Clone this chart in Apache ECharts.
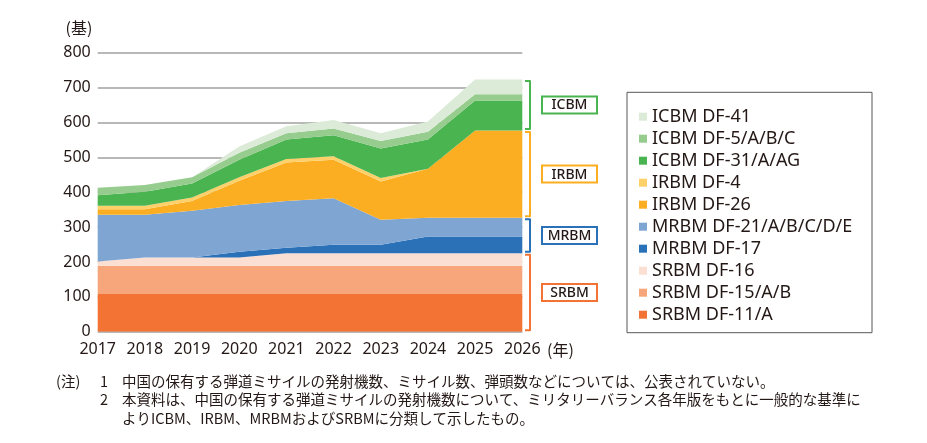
<!DOCTYPE html>
<html>
<head>
<meta charset="utf-8">
<script src="https://cdn.jsdelivr.net/npm/echarts@6/dist/echarts.min.js"></script>
<style>
  html, body { margin: 0; padding: 0; background: #ffffff; }
  #chart { width: 927px; height: 443px; }
</style>
</head>
<body>
<div id="chart"></div>
<script>
// ---- data (launchers, 基) ----
const years = ['2017','2018','2019','2020','2021','2022','2023','2024','2025','2026'];
const yTicks = [0,100,200,300,400,500,600,700,800];

const srbmDF11  = [108,108,108,108,108,108,108,108,108,108];
const srbmDF15  = [81,81,81,81,81,81,81,81,81,81];
const srbmDF16  = [12,24,24,24,36,36,36,36,36,36];
const mrbmDF17  = [0,0,0,16,16,24,24,48,48,48];
const mrbmDF21  = [134,122,134,134,134,134,72,54,54,54];
const irbmDF26  = [16,16,28,70,110,110,110,140,250,250];
const irbmDF4   = [10,10,10,10,10,10,10,0,0,0];
const icbmDF31  = [30,40,40,50,56,60,84,84,86,86];
const icbmDF5   = [22,20,18,20,18,20,22,22,18,18];
const icbmDF41  = [0,0,0,18,20,24,22,30,42,42];

const seriesNames = ['SRBM DF-11/A','SRBM DF-15/A/B','SRBM DF-16','MRBM DF-17','MRBM DF-21/A/B/C/D/E',
                     'IRBM DF-26','IRBM DF-4','ICBM DF-31/A/AG','ICBM DF-5/A/B/C','ICBM DF-41'];
const seriesData = [srbmDF11, srbmDF15, srbmDF16, mrbmDF17, mrbmDF21, irbmDF26, irbmDF4, icbmDF31, icbmDF5, icbmDF41];
const seriesColors = ['#f37335','#f6a67a','#fadfd2','#2a71b8','#7fa5d3','#fbae22','#fdd06a','#4ab451','#96cc8e','#dbebd7'];

// groups (bracket labels) : index ranges into the series list
const groupLabels = ['SRBM','MRBM','IRBM','ICBM'];
const groupRanges = [[0,2],[3,4],[5,6],[7,9]];
const groupColors = ['#f37335','#2a71b8','#fbae22','#4ab451'];

const notes1 = '中国の保有する弾道ミサイルの発射機数、ミサイル数、弾頭数などについては、公表されていない。';
const notes2 = '本資料は、中国の保有する弾道ミサイルの発射機数について、ミリタリーバランス各年版をもとに一般的な基準に';
const notes3 = 'よりICBM、IRBM、MRBMおよびSRBMに分類して示したもの。';

const textColor = '#231815';
const latin = '"Noto Sans", "Open Sans", sans-serif';
const cjk = '"Noto Sans CJK JP", "Noto Sans", sans-serif';

const chart = echarts.init(document.getElementById('chart'), null, {renderer: 'canvas'});

const series = seriesNames.map((name, i) => ({
  name: name,
  type: 'line',
  stack: 'total',
  data: seriesData[i],
  symbol: 'none',
  showSymbol: false,
  color: seriesColors[i],
  itemStyle: { color: seriesColors[i] },
  lineStyle: { width: 0, color: seriesColors[i] },
  areaStyle: { color: seriesColors[i], opacity: 1 },
  emphasis: { disabled: true },
  animation: false
}));

chart.setOption({
  animation: false,
  backgroundColor: '#ffffff',
  grid: { left: 97.7, right: 927 - 522.3, top: 52.7, bottom: 443 - 331.7, containLabel: false },
  xAxis: {
    type: 'category',
    data: years,
    boundaryGap: false,
    axisLine: { show: false },
    axisTick: { show: false },
    axisLabel: { interval: 0, hideOverlap: false, color: textColor, fontSize: 16, fontFamily: latin, margin: 10 }
  },
  yAxis: {
    type: 'value',
    min: yTicks[0],
    max: yTicks[yTicks.length - 1],
    interval: 100,
    axisLine: { show: false },
    axisTick: { show: false },
    axisLabel: { color: textColor, fontSize: 16, fontFamily: latin, margin: 7 },
    splitLine: { lineStyle: { color: '#a0a0a0', width: 1.5 } }
  },
  legend: {
    orient: 'vertical',
    left: 639,
    top: 107.7,
    padding: 0,
    itemWidth: 8,
    itemHeight: 8,
    itemGap: 4,
    icon: 'rect',
    selectedMode: false,
    data: seriesNames.slice().reverse(),
    textStyle: { color: textColor, fontSize: 18, lineHeight: 18, fontFamily: latin }
  },
  series: series
});

// ---- annotations computed from the data through the axis ----
const last = years.length - 1;
const cum = [0];
seriesData.forEach((arr, i) => cum.push(cum[i] + arr[last]));

const graphics = [];
const bx = 530, bTick = 5, inset = 1.5;
groupRanges.forEach((r, gi) => {
  const lo = cum[r[0]];
  const hi = cum[r[1] + 1];
  const yTop = chart.convertToPixel({ yAxisIndex: 0 }, hi) + inset;
  const yBot = chart.convertToPixel({ yAxisIndex: 0 }, lo) - inset;
  graphics.push({
    type: 'polyline',
    shape: { points: [[bx - bTick, yTop], [bx, yTop], [bx, yBot], [bx - bTick, yBot]] },
    style: { stroke: groupColors[gi], lineWidth: 2, fill: null, lineJoin: 'round', lineCap: 'butt' },
    silent: true
  });
  const cy = (yTop + yBot) / 2;
  graphics.push({
    type: 'rect',
    shape: { x: 542, y: cy - 8.5, width: 55, height: 17 },
    style: { stroke: groupColors[gi], lineWidth: 2, fill: '#ffffff' },
    silent: true
  });
  graphics.push({
    type: 'text',
    x: 569.5, y: cy + 0.5,
    style: { text: groupLabels[gi], fill: textColor, font: '500 14px ' + latin, align: 'center', verticalAlign: 'middle' },
    silent: true
  });
});

// legend frame
graphics.push({
  type: 'rect',
  shape: { x: 627, y: 92.3, width: 245, height: 240.4 },
  style: { stroke: '#595757', lineWidth: 1, fill: null },
  silent: true
});

// axis unit labels
graphics.push({
  type: 'text', x: 79, y: 28,
  style: { text: '(基)', fill: textColor, font: '16px ' + cjk, align: 'center', verticalAlign: 'middle' }
});
graphics.push({
  type: 'text', x: 547, y: 350,
  style: { text: '(年)', fill: textColor, font: '16px ' + cjk, align: 'left', verticalAlign: 'middle' }
});

// notes
const noteFont = '14.5px ' + cjk;
[
  ['(注)', 56, 381, 'left'],
  ['1', 104, 381, 'center'],
  [notes1, 122, 381, 'left'],
  ['2', 104, 399.5, 'center'],
  [notes2, 122, 399.5, 'left'],
  [notes3, 122, 418, 'left']
].forEach(n => {
  graphics.push({
    type: 'text', x: n[1], y: n[2],
    style: { text: n[0], fill: textColor, font: noteFont, align: n[3], verticalAlign: 'middle' }
  });
});

chart.setOption({ graphic: graphics });
</script>
</body>
</html>
